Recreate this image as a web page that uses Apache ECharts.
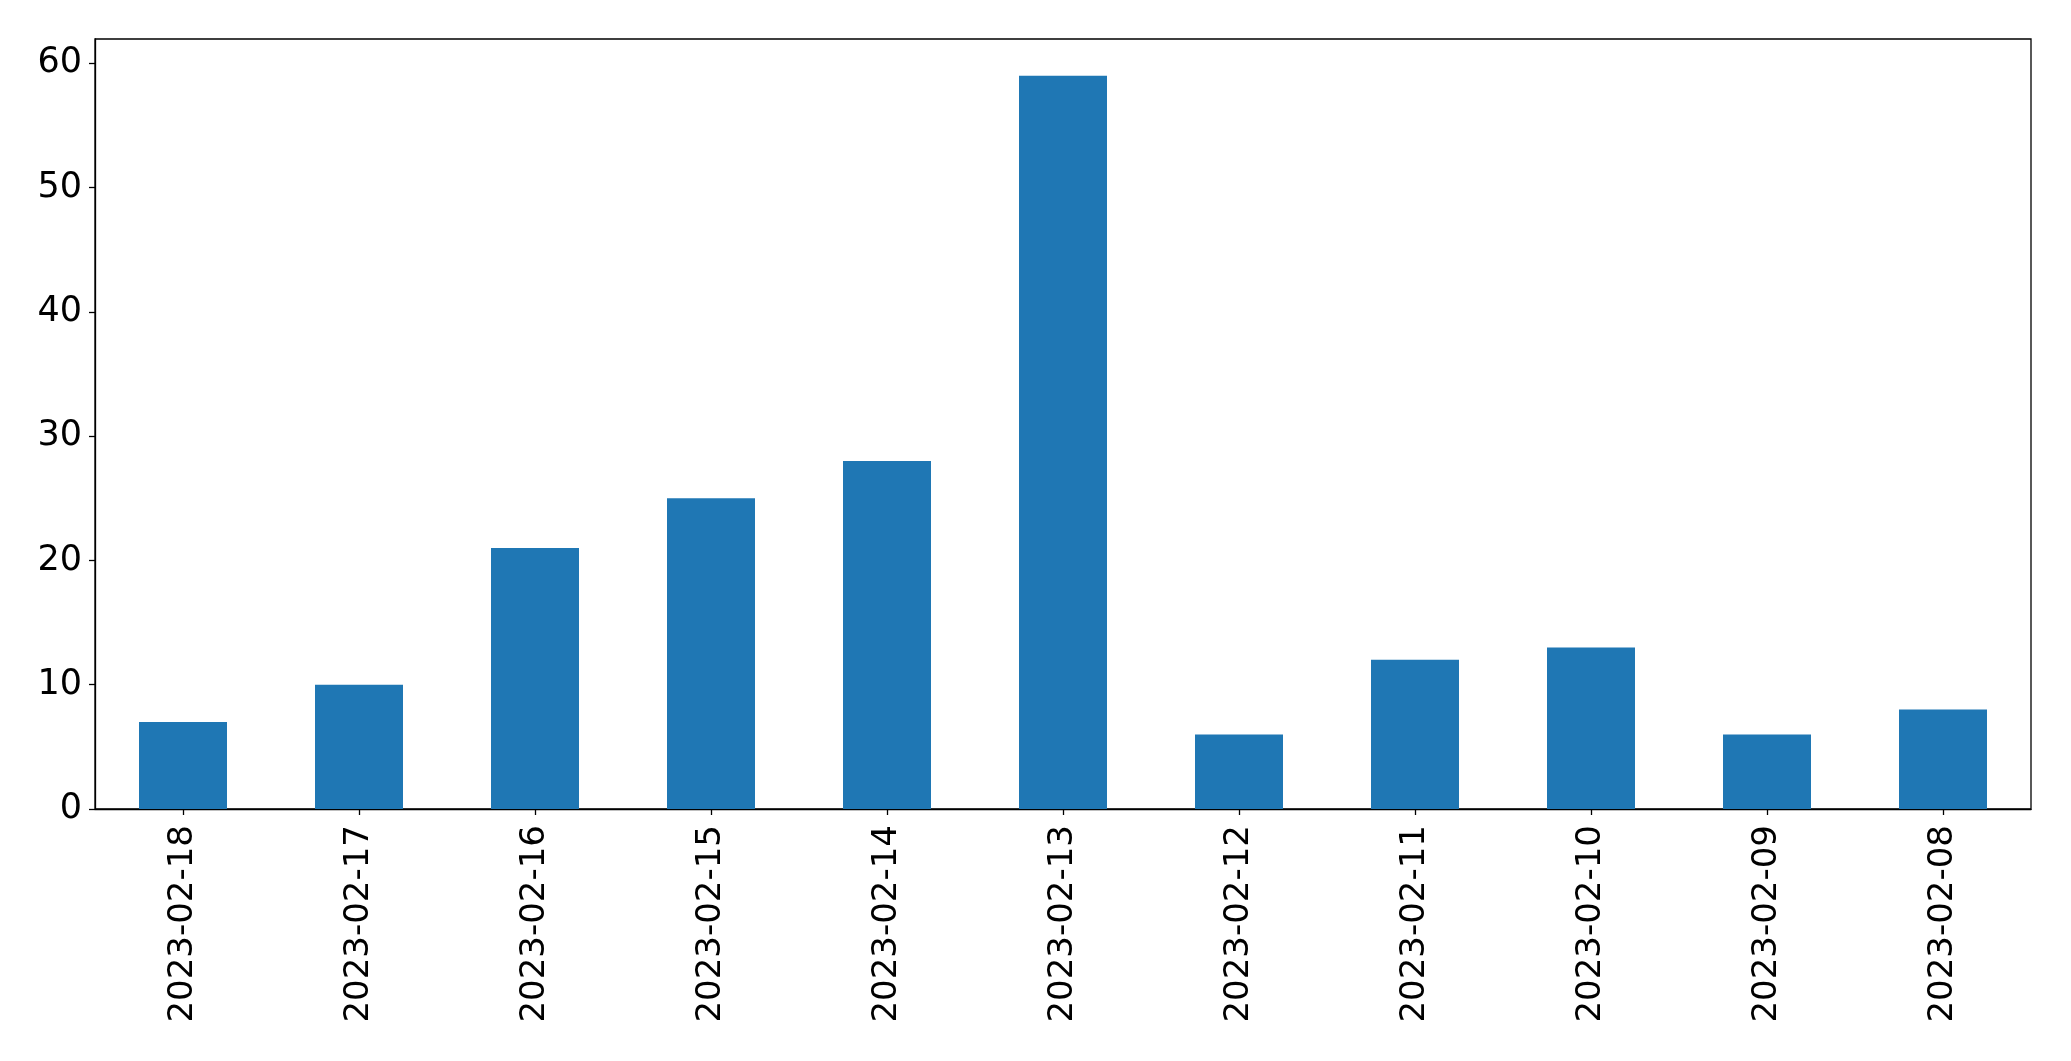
<!DOCTYPE html>
<html>
<head>
<meta charset="utf-8">
<script src="https://cdn.jsdelivr.net/npm/echarts@6/dist/echarts.min.js"></script>
<style>
html,body{margin:0;padding:0;background:#fff;}
#chart{width:2071px;height:1061px;}
</style>
</head>
<body>
<div id="chart"></div>
<script>
const categories = ["2023-02-18","2023-02-17","2023-02-16","2023-02-15","2023-02-14","2023-02-13","2023-02-12","2023-02-11","2023-02-10","2023-02-09","2023-02-08"];
const values = [7, 10, 21, 25, 28, 59, 6, 12, 13, 6, 8];
const yTicks = [0, 10, 20, 30, 40, 50, 60];

const chart = echarts.init(document.getElementById('chart'), null, {renderer: 'canvas'});
const font = 'DejaVu Sans';
chart.setOption({
  animation: false,
  grid: {left: 95, right: 40, top: 39, bottom: 1061 - 809, show: true, borderColor: '#000', borderWidth: 1.3, containLabel: false},
  xAxis: {
    type: 'category',
    data: categories,
    boundaryGap: true,
    axisLine: {show: true, lineStyle: {color: '#000', width: 1.3}},
    axisTick: {show: true, alignWithLabel: true, length: 6, lineStyle: {color: '#000', width: 1.3}},
    axisLabel: {rotate: 90, margin: 16, color: '#000', fontFamily: font, fontSize: 34, interval: 0},
    splitLine: {show: false}
  },
  yAxis: {
    type: 'value',
    min: 0,
    max: 61.95,
    axisLine: {show: true, lineStyle: {color: '#000', width: 1.3}},
    axisTick: {show: true, length: 6, customValues: yTicks, lineStyle: {color: '#000', width: 1.3}},
    axisLabel: {margin: 13, color: '#000', fontFamily: font, fontSize: 35, customValues: yTicks},
    splitLine: {show: false}
  },
  series: [{
    type: 'bar',
    data: values,
    barWidth: '50%',
    itemStyle: {color: '#1f77b4'}
  }]
});
</script>
</body>
</html>
